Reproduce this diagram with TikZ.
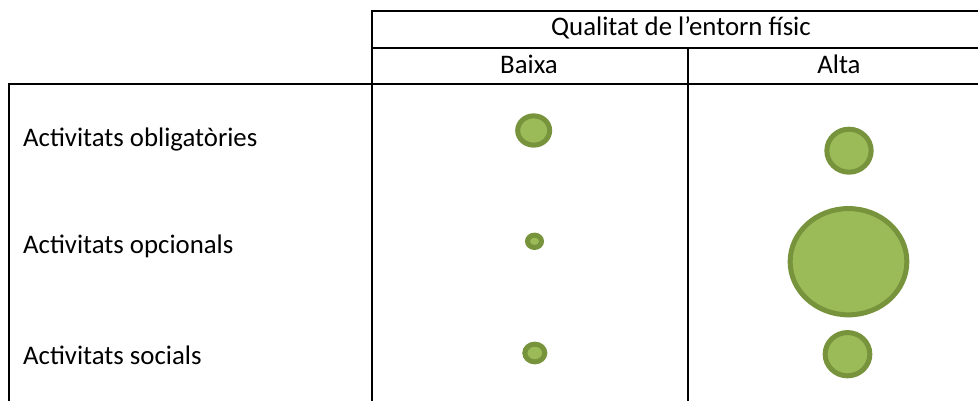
\documentclass[tikz,border=0pt]{standalone}
\usepackage{fontspec}
\setmainfont{Carlito}
\usepackage{tikz}
\usepackage{xcolor}
\usetikzlibrary{shapes.geometric}
\definecolor{dot-fill}{HTML}{9BBB59}
\definecolor{dot-line}{HTML}{77933C}
\tikzset{
    grid-line/.style = {draw=black, line width=2pt},
    cell-text/.style = {font=\fontsize{26.8}{32}\selectfont, inner sep=0pt},
    green-dot/.style = {ellipse, draw=dot-line, fill=dot-fill, line width=5pt, inner sep=0pt},
}

\begin{document}
\begin{tikzpicture}[x=1pt, y=-1pt]
\useasboundingbox (0,0) rectangle (978,401);
% table lines
\draw[grid-line] (372,401) -- (372,11) -- (978,11);
\draw[grid-line] (372,48) -- (978,48);
\draw[grid-line] (9,401) -- (9,84) -- (978,84);
\draw[grid-line] (688,48) -- (688,401);
% header cells
\node[cell-text, anchor=base] (quality) at (681,36) {Qualitat de l’entorn físic};
\node[cell-text, anchor=base] (low) at (529,74) {Baixa};
\node[cell-text, anchor=base] (high) at (839,74) {Alta};
% row labels
\node[cell-text, anchor=base west] (mandatory) at (23,147) {Activitats obligatòries};
\node[cell-text, anchor=base west] (optional) at (23,254) {Activitats opcionals};
\node[cell-text, anchor=base west] (social) at (23,364) {Activitats socials};
% dots
\node[green-dot, minimum width=32pt, minimum height=29.3pt] (mandatory-low) at (533.7,130.5) {};
\node[green-dot, minimum width=44.3pt, minimum height=43pt] (mandatory-high) at (849,150.7) {};
\node[green-dot, minimum width=14pt, minimum height=12.3pt] (optional-low) at (534.5,241.3) {};
\node[green-dot, minimum width=116.7pt, minimum height=106.3pt] (optional-high) at (848.5,261.7) {};
\node[green-dot, minimum width=20pt, minimum height=17.7pt] (social-low) at (534.8,353) {};
\node[green-dot, minimum width=44.7pt, minimum height=43.3pt] (social-high) at (847.5,354.2) {};
\end{tikzpicture}
\end{document}
